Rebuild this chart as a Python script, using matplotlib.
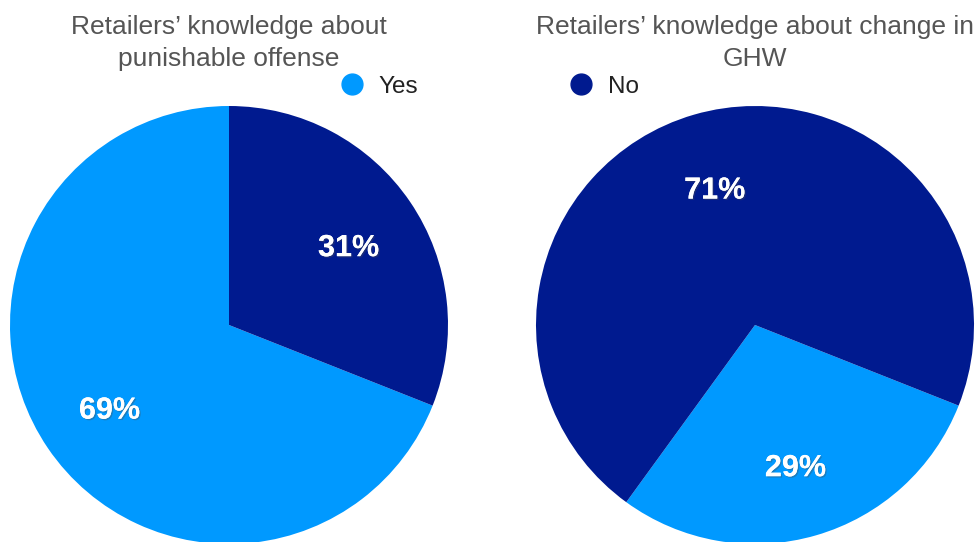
import matplotlib.pyplot as plt
import matplotlib.patheffects as pe
from matplotlib.lines import Line2D

# Data
categories = ['Yes', 'No']
offense_values = [69, 31]
ghw_values = [29, 71]
titles = ["Retailers\u2019 knowledge about\npunishable offense",
          "Retailers\u2019 knowledge about change in\nGHW"]
colors = ['#0099FF', '#001A8F']

plt.rcParams['font.family'] = ['Liberation Sans', 'DejaVu Sans']

W, H = 979, 542
fig = plt.figure(figsize=(W / 100, H / 100), dpi=100)

# pie axes placed in pixel terms (center x, center y, radius)
pies = [(229, 325, 219, offense_values), (755, 325, 219, ghw_values)]

for (cx, cy, r, values), title in zip(pies, titles):
    ax = fig.add_axes([(cx - r) / W, (H - cy - r) / H, 2 * r / W, 2 * r / H])
    wedges, texts, autotexts = ax.pie(
        values, colors=colors, startangle=-21.6, counterclock=False,
        radius=1, autopct='%d%%', pctdistance=0.66,
        textprops=dict(color='white', fontsize=22, fontweight='bold'))
    for t in autotexts:
        x, y = t.get_position()
        t.set_position((x, y - 0.02))
        t.set_path_effects([pe.withSimplePatchShadow(offset=(1, -1), alpha=0.35),
                            pe.Normal()])
    ax.set_xlim(-1, 1)
    ax.set_ylim(-1, 1)
    ax.set_aspect('equal')
    ax.axis('off')
    fig.text(cx / W, 1 - 43 / H, title, ha='center', va='center',
             fontsize=19, color='#555555', linespacing=1.4)

handles = [Line2D([], [], marker='o', linestyle='', markersize=15,
                  markerfacecolor=c, markeredgecolor=c) for c in colors]
fig.legend(handles, categories, loc='center', bbox_to_anchor=(489 / W, 1 - 87 / H),
           ncol=2, frameon=False, fontsize=17.5, handlelength=1.0,
           handletextpad=0.6, columnspacing=6.2, labelcolor='#222222')

fig.savefig('out.png', dpi=100)
